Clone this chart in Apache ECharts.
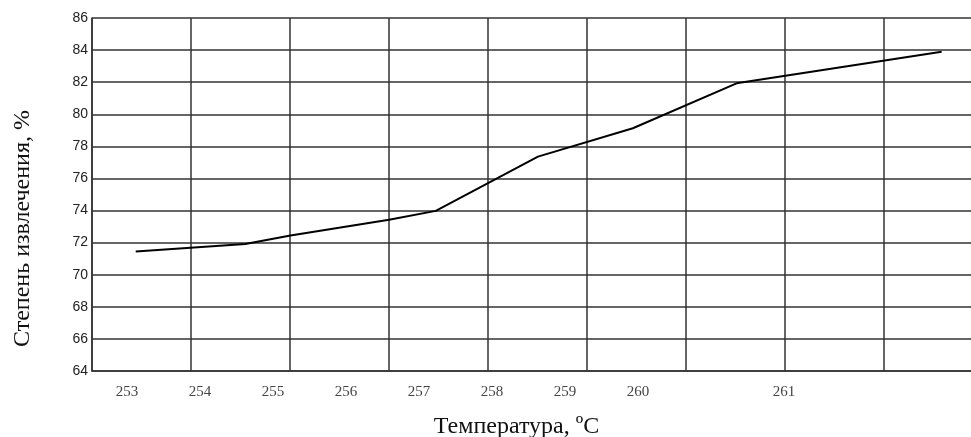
<!DOCTYPE html>
<html>
<head>
<meta charset="utf-8">
<script src="https://cdn.jsdelivr.net/npm/echarts@6/dist/echarts.min.js"></script>
<style>
  html, body { margin: 0; padding: 0; background: #fff; }
  #chart { width: 971px; height: 437px; }
</style>
</head>
<body>
<div id="chart"></div>
<script>
// температура, °C (по шкале подписей 253..260)
var temps = [253.12, 254.62, 255.24, 256.59, 257.23, 258.63, 259.93, 261.35, 264.16];
// степень извлечения, %
var yields = [71.45, 71.92, 72.45, 73.42, 73.98, 77.36, 79.13, 81.93, 83.9];

// подписи оси X и значения, к которым они привязаны
var tickAt = [253, 254, 255, 256, 257, 258, 259, 260, 262];
var tickText = ['253', '254', '255', '256', '257', '258', '259', '260', '261'];

var gridColor = '#333';

var option = {
  animation: false,
  backgroundColor: '#fff',
  grid: {
    left: 92,
    right: 0,
    top: 18,
    bottom: 66,
    outerBoundsMode: 'none'
  },
  xAxis: [{
    // сетка: клетки одинаковой ширины, последняя обрезана краем
    type: 'value',
    min: 0,
    max: 8.879,
    interval: 1,
    axisLine: { show: true, onZero: false, lineStyle: { color: gridColor, width: 1.5 } },
    axisTick: { show: false },
    axisLabel: { show: false },
    splitLine: { show: true, showMaxLine: false, lineStyle: { color: gridColor, width: 1.5 } }
  }, {
    type: 'value',
    position: 'bottom',
    min: 252.521,
    max: 264.562,
    axisLine: { show: false },
    axisTick: { show: false },
    splitLine: { show: false },
    axisLabel: {
      customValues: tickAt,
      margin: 14,
      fontFamily: 'Liberation Serif',
      fontSize: 15,
      color: '#444',
      formatter: function (v) {
        var i = tickAt.indexOf(v);
        return i >= 0 ? tickText[i] : '';
      }
    },
    name: 'Температура, ºC',
    nameLocation: 'middle',
    nameGap: 44,
    nameTextStyle: {
      fontFamily: 'Liberation Serif',
      fontSize: 24,
      color: '#111',
      padding: [0, 30, 0, 0]
    }
  }],
  yAxis: {
    type: 'value',
    min: 64,
    max: 86,
    interval: 2,
    axisLine: { show: true, lineStyle: { color: gridColor, width: 1.5 } },
    axisTick: { show: false },
    splitLine: { show: true, lineStyle: { color: gridColor, width: 1.5 } },
    axisLabel: {
      margin: 4,
      fontFamily: 'Liberation Sans',
      fontSize: 14,
      color: '#222'
    },
    name: 'Степень извлечения, %',
    nameLocation: 'middle',
    nameGap: 57,
    nameTextStyle: {
      fontFamily: 'Liberation Serif',
      fontSize: 24,
      color: '#111',
      padding: [0, 68, 0, 0]
    }
  },
  series: [{
    type: 'line',
    xAxisIndex: 1,
    data: temps.map(function (t, i) { return [t, yields[i]]; }),
    showSymbol: false,
    lineStyle: { color: '#000', width: 2 }
  }]
};

var chart = echarts.init(document.getElementById('chart'));
chart.setOption(option);
</script>
</body>
</html>
